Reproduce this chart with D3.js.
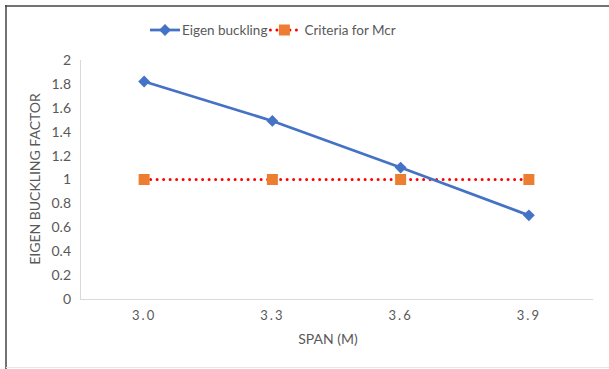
<!DOCTYPE html>
<html>
<head>
<meta charset="utf-8">
<script src="https://cdn.jsdelivr.net/npm/d3@7"></script>
<style>
  body { margin: 0; background: #fff; }
  svg { display: block; }
</style>
</head>
<body>
<svg id="chart" width="609" height="369"></svg>
<script>
const spans = ["3.0", "3.3", "3.6", "3.9"];
const eigen = [1.82, 1.49, 1.10, 0.70];
const criteria = [1, 1, 1, 1];
const yTicks = [0, 0.2, 0.4, 0.6, 0.8, 1, 1.2, 1.4, 1.6, 1.8, 2];

const svg = d3.select("#chart");
const font = "Lato, 'Open Sans', sans-serif";
const grey = "#595959";

// frame like the cropped screenshot
svg.append("line").attr("x1", 5).attr("x2", 609).attr("y1", 6).attr("y2", 6)
  .attr("stroke", "#444").attr("stroke-width", 1.5);
svg.append("line").attr("x1", 6).attr("x2", 6).attr("y1", 5).attr("y2", 369)
  .attr("stroke", "#444").attr("stroke-width", 1.5);
svg.append("line").attr("x1", 6).attr("x2", 609).attr("y1", 367.5).attr("y2", 367.5)
  .attr("stroke", "#e6e6e6").attr("stroke-width", 1);

const x = d3.scaleBand().domain(spans).range([80, 593]);
const y = d3.scaleLinear().domain([0, 2]).range([299, 60]);

// axes lines
svg.append("line").attr("x1", 80.5).attr("x2", 80.5).attr("y1", y(2)).attr("y2", y(0))
  .attr("stroke", "#d9d9d9");
svg.append("line").attr("x1", 80).attr("x2", 593).attr("y1", y(0) + 0.5).attr("y2", y(0) + 0.5)
  .attr("stroke", "#d9d9d9");

// y tick labels
svg.append("g").selectAll("text").data(yTicks).join("text")
  .attr("x", 71).attr("y", d => y(d)).attr("dy", "0.35em")
  .attr("text-anchor", "end")
  .style("font", `14px ${font}`).attr("fill", grey)
  .text(d => d);

// x tick labels
svg.append("g").selectAll("text").data(spans).join("text")
  .attr("x", d => x(d) + x.bandwidth() / 2).attr("y", 320)
  .attr("text-anchor", "middle")
  .style("font", `13px ${font}`).style("letter-spacing", "2px").attr("fill", grey)
  .text(d => d);

// axis titles
svg.append("text").attr("x", 328).attr("y", 344).attr("text-anchor", "middle")
  .style("font", `14px ${font}`).attr("fill", grey).text("SPAN (M)");
svg.append("text").attr("transform", "translate(40,179) rotate(-90)")
  .attr("text-anchor", "middle")
  .style("font", `14px ${font}`).attr("fill", grey).text("EIGEN BUCKLING FACTOR");

const cx = d => x(d) + x.bandwidth() / 2;
const line = d3.line().x((d, i) => cx(spans[i])).y(d => y(d));
const diamond = d3.symbol().type(d3.symbolSquare).size(70);

// criteria series
svg.append("path").datum(criteria).attr("d", line)
  .attr("fill", "none").attr("stroke", "#ff0000").attr("stroke-width", 3)
  .attr("stroke-dasharray", "0,6.5").attr("stroke-linecap", "round");
svg.append("g").selectAll("rect").data(criteria).join("rect")
  .attr("x", (d, i) => cx(spans[i]) - 5.5).attr("y", d => y(d) - 5.5)
  .attr("width", 11).attr("height", 11).attr("fill", "#ed7d31");

// eigen series
svg.append("path").datum(eigen).attr("d", line)
  .attr("fill", "none").attr("stroke", "#4472c4").attr("stroke-width", 2.75);
svg.append("g").selectAll("path").data(eigen).join("path")
  .attr("transform", (d, i) => `translate(${cx(spans[i])},${y(d)}) rotate(45)`)
  .attr("d", diamond).attr("fill", "#4472c4");

// legend
const lg = svg.append("g");
lg.append("line").attr("x1", 150).attr("x2", 180).attr("y1", 30).attr("y2", 30)
  .attr("stroke", "#4472c4").attr("stroke-width", 2.75);
lg.append("path").attr("transform", "translate(165,30) rotate(45)")
  .attr("d", diamond).attr("fill", "#4472c4");
const t1 = lg.append("text").attr("x", 182).attr("y", 30).attr("dy", "0.35em")
  .style("font", `13.5px ${font}`).attr("fill", grey).text("Eigen buckling");
const x2 = 182 + t1.node().getComputedTextLength() + 3;
lg.append("line").attr("x1", x2).attr("x2", x2 + 28).attr("y1", 30).attr("y2", 30)
  .attr("stroke", "#ff0000").attr("stroke-width", 3)
  .attr("stroke-dasharray", "0,6.5").attr("stroke-linecap", "round");
lg.append("rect").attr("x", x2 + 8.5).attr("y", 24.5).attr("width", 11).attr("height", 11)
  .attr("fill", "#ed7d31");
lg.append("text").attr("x", x2 + 34).attr("y", 30).attr("dy", "0.35em")
  .style("font", `13.5px ${font}`).attr("fill", grey).text("Criteria for Mcr");
</script>
</body>
</html>
